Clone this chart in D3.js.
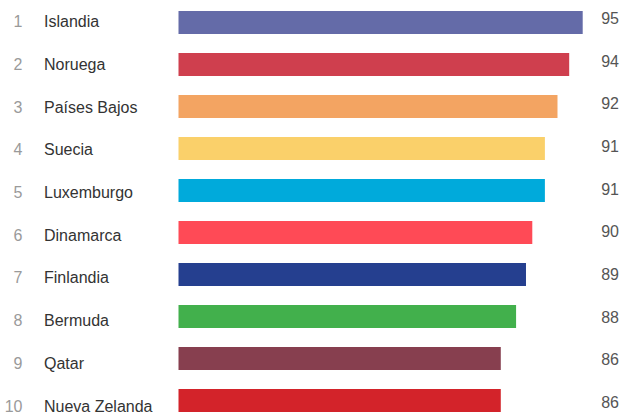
<!DOCTYPE html>
<html>
<head>
<meta charset="utf-8">
<script src="https://cdn.jsdelivr.net/npm/d3@7"></script>
<style>
  html, body { margin: 0; padding: 0; background: #fff; }
  svg { display: block; }
  text { font-family: "Liberation Sans", Arial, Helvetica, sans-serif; }
</style>
</head>
<body>
<svg id="chart" width="621" height="416"></svg>
<script>
const ranks = [1, 2, 3, 4, 5, 6, 7, 8, 9, 10];
const countries = ["Islandia", "Noruega", "Países Bajos", "Suecia", "Luxemburgo", "Dinamarca", "Finlandia", "Bermuda", "Qatar", "Nueva Zelanda"];
const scores = [95.2, 93.7, 92.4, 91.0, 91.0, 89.6, 88.9, 87.8, 86.1, 86.1];
const colors = ["#646ba8", "#cf3f4e", "#f3a462", "#fad06a", "#00aadb", "#ff4a56", "#253f8f", "#42b04c", "#873f4f", "#d3232a"];

const svg = d3.select("#chart");

const x = d3.scaleLinear().domain([50.3, 95.2]).range([178.5, 582.7]);
const yBar = d3.scalePoint().domain(countries).range([22.5, 400.5]);
const yLabel = d3.scalePoint().domain(countries).range([21.5, 406]);
const yValue = d3.scalePoint().domain(countries).range([18.5, 402.5]);
const barH = 23;

const rows = countries.map((c, i) => ({ rank: ranks[i], name: c, value: scores[i], color: colors[i] }));

svg.selectAll("rect.bar").data(rows).enter().append("rect")
  .attr("class", "bar")
  .attr("x", x.range()[0])
  .attr("y", d => yBar(d.name) - barH / 2)
  .attr("width", d => x(d.value) - x.range()[0])
  .attr("height", barH)
  .attr("fill", d => d.color);

svg.selectAll("text.rank").data(rows).enter().append("text")
  .attr("class", "rank")
  .attr("x", 22.5)
  .attr("y", d => yLabel(d.name))
  .attr("dy", "0.35em")
  .attr("text-anchor", "end")
  .attr("font-size", 16)
  .attr("fill", "#9a9a9a")
  .text(d => d.rank);

svg.selectAll("text.name").data(rows).enter().append("text")
  .attr("class", "name")
  .attr("x", 44)
  .attr("y", d => yLabel(d.name))
  .attr("dy", "0.35em")
  .attr("font-size", 16)
  .attr("fill", "#333")
  .text(d => d.name);

const fmt = d3.format(".0f");
svg.selectAll("text.value").data(rows).enter().append("text")
  .attr("class", "value")
  .attr("x", 619)
  .attr("y", d => yValue(d.name))
  .attr("dy", "0.35em")
  .attr("text-anchor", "end")
  .attr("font-size", 16)
  .attr("fill", "#555")
  .text(d => fmt(d.value));
</script>
</body>
</html>
